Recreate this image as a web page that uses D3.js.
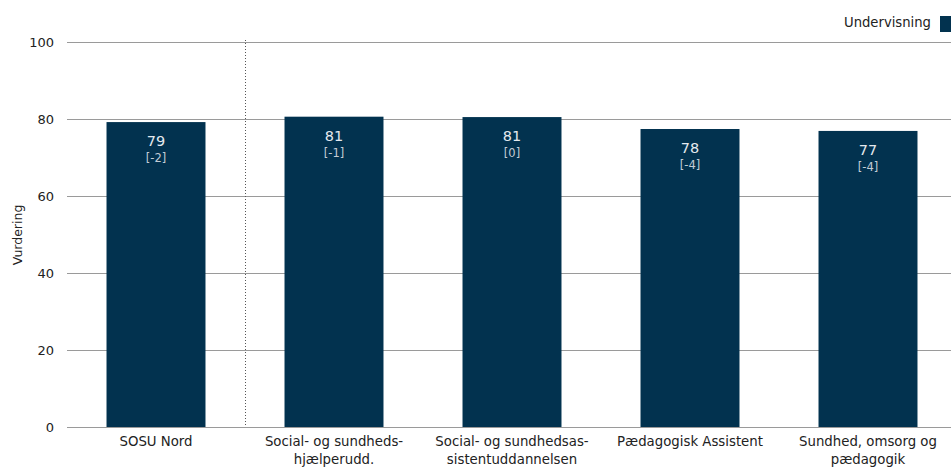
<!DOCTYPE html>
<html><head><meta charset="utf-8">
<script src="https://cdn.jsdelivr.net/npm/d3@7"></script>
<style>body{margin:0;background:#fff}svg{display:block;font-family:Tahoma,"DejaVu Sans",sans-serif}</style>
</head><body><svg id="c" width="951" height="471"></svg>
<script>
const categories = ["SOSU Nord", "Social- og sundheds-|hjælperudd.", "Social- og sundhedsas-|sistentuddannelsen", "Pædagogisk Assistent", "Sundhed, omsorg og|pædagogik"];
const values = [79.2, 80.6, 80.5, 77.4, 76.9];
const valueLabels = ["79", "81", "81", "78", "77"];
const changeLabels = ["[-2]", "[-1]", "[0]", "[-4]", "[-4]"];
const yTicks = [0, 20, 40, 60, 80, 100];
const seriesName = "Undervisning";

const svg = d3.select("#c");
const color = "#02324f";
const x = d3.scaleBand().domain(categories).range([67, 957]).paddingInner(0.444).paddingOuter(0.222);
const y = d3.scaleLinear().domain([0, 100]).range([427, 42]);

// gridlines
svg.append("g").selectAll("line").data(yTicks).join("line")
  .attr("x1", 67).attr("x2", 951).attr("y1", d => Math.round(y(d)) + 0.5).attr("y2", d => Math.round(y(d)) + 0.5)
  .attr("stroke", "#9a9a9a").attr("stroke-width", 1);

// y axis labels
const yAxis = svg.append("g").attr("transform", "translate(67,0)")
  .call(d3.axisLeft(y).tickValues(yTicks).tickSize(0).tickPadding(13));
yAxis.select(".domain").remove();
yAxis.selectAll("text").attr("font-size", 13).attr("fill", "#222").attr("font-family", "Tahoma,'DejaVu Sans',sans-serif");

svg.append("text").attr("transform", "translate(22,235) rotate(-90)").attr("text-anchor", "middle")
  .attr("font-size", 12.5).attr("fill", "#222").text("Vurdering");

// separator
const sepX = Math.round(x.range()[0] + x.step()) + 0.5;
svg.append("line").attr("x1", sepX).attr("x2", sepX).attr("y1", 40).attr("y2", 427)
  .attr("stroke", "#555").attr("stroke-dasharray", "1,2");

// bars
svg.append("g").selectAll("rect").data(values).join("rect")
  .attr("x", (d, i) => x(categories[i])).attr("width", x.bandwidth())
  .attr("y", d => y(d)).attr("height", d => y(0) - y(d)).attr("fill", color);

// value labels
svg.append("g").selectAll("text").data(values).join("text")
  .attr("x", (d, i) => x(categories[i]) + x.bandwidth() / 2).attr("y", d => y(d) + 24)
  .attr("text-anchor", "middle").attr("font-size", 14.5).attr("fill", "#e4e9ee").text((d, i) => valueLabels[i]);
svg.append("g").selectAll("text").data(values).join("text")
  .attr("x", (d, i) => x(categories[i]) + x.bandwidth() / 2).attr("y", d => y(d) + 40)
  .attr("text-anchor", "middle").attr("font-size", 11.5).attr("fill", "#c3ccd5").text((d, i) => changeLabels[i]);

// category labels
const xl = svg.append("g").selectAll("text").data(categories).join("text")
  .attr("x", d => x(d) + x.bandwidth() / 2).attr("y", 446)
  .attr("text-anchor", "middle").attr("font-size", 13.3).attr("fill", "#222");
xl.selectAll("tspan").data(d => d.split("|")).join("tspan")
  .attr("x", function() { return d3.select(this.parentNode).attr("x"); })
  .attr("dy", (d, i) => i === 0 ? 0 : 17.5).text(d => d);

// legend
svg.append("text").attr("x", 931).attr("y", 27).attr("text-anchor", "end")
  .attr("font-size", 13.2).attr("fill", "#222").text(seriesName);
svg.append("rect").attr("x", 940).attr("y", 16).attr("width", 15).attr("height", 16).attr("fill", color);
</script></body></html>
